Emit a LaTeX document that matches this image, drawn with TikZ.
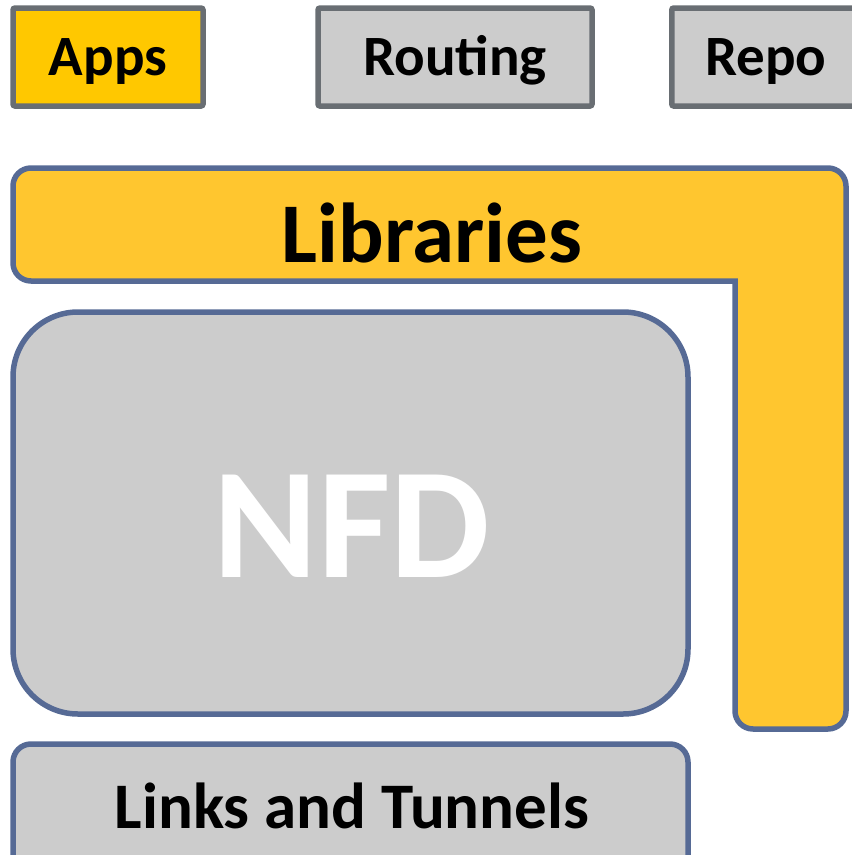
\documentclass[tikz,border=0pt]{standalone}
\usepackage{fontspec}
\setmainfont{Carlito}
\usetikzlibrary{positioning}
\definecolor{appgold}{HTML}{FFC800}
\definecolor{libgold}{HTML}{FFC62F}
\definecolor{boxgray}{HTML}{CCCCCC}
\definecolor{edgegray}{HTML}{696E73}
\definecolor{edgeblue}{HTML}{566A95}
\tikzset{
  topbox/.style={draw=edgegray, line width=5.5pt, rounded corners=2pt,
    fill=boxgray, font=\bfseries\fontsize{57}{57}\selectfont, inner sep=0pt,
    text height=46pt, text depth=10pt},
  layerbox/.style={draw=edgeblue, line width=5.5pt, fill=boxgray},
}
\begin{document}
\begin{tikzpicture}[x=1pt,y=-1pt]
  \useasboundingbox (0,0) rectangle (852,855);
  \clip (0,0) rectangle (852,855);
  % top row
  \node[topbox, fill=appgold, minimum width=190pt, minimum height=98pt] (apps) at (108,57) {Apps};
  \node[topbox, minimum width=274pt, minimum height=98pt] (routing) at (455,57) {Routing};
  \node[topbox, minimum width=212pt, minimum height=98pt, anchor=west] (repo) at (669,57) {\hspace*{-24pt}Repo};
  % libraries
  \draw[layerbox, fill=libgold, rounded corners=18pt]
    (13,168) -- (846,168) -- (846,729) -- (735,729)
    [sharp corners] -- (735,281) [rounded corners=18pt] -- (13,281) -- cycle;
  \node[font=\bfseries\fontsize{85}{85}\selectfont] (libs) at (432,233) {Libraries};
  % forwarder
  \draw[layerbox, rounded corners=65pt] (13,312) rectangle (688,714);
  \node[text=white, font=\bfseries\fontsize{158}{158}\selectfont] (nfd) at (352,526) {NFD};
  % links
  \draw[layerbox, rounded corners=18pt] (13,744) rectangle (688,880);
  \node[font=\bfseries\fontsize{65}{65}\selectfont] (links) at (352,806) {Links and Tunnels};
\end{tikzpicture}
\end{document}
